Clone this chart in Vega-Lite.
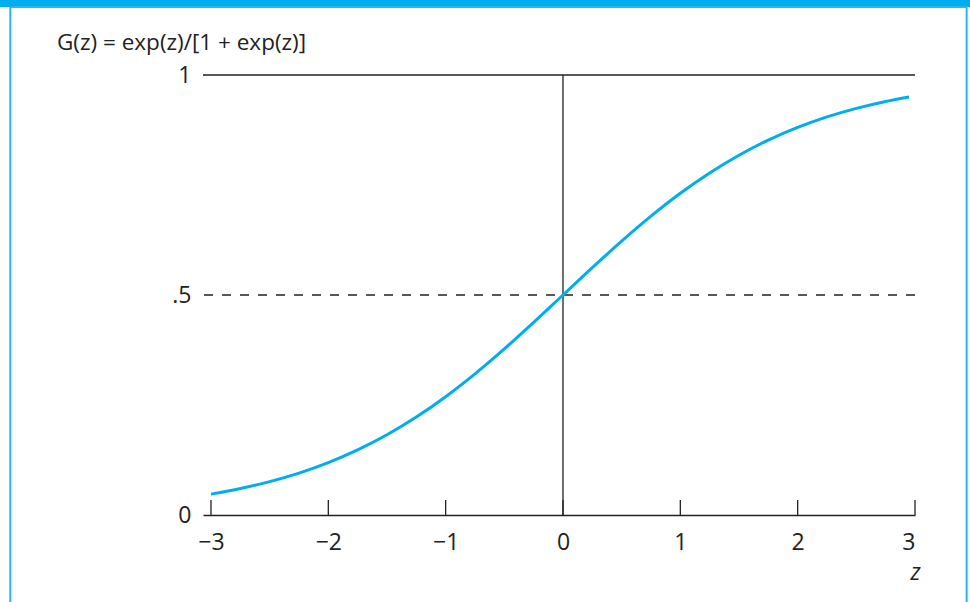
{
  "$schema": "https://vega.github.io/schema/vega-lite/v6.json",
  "autosize": {"type": "none"},
  "width": 712,
  "height": 440,
  "padding": {"left": 203, "top": 75, "right": 55, "bottom": 87},
  "background": "white",
  "config": {"view": {"stroke": null}, "font": "Open Sans"},
  "datasets": {
    "curve": [
      {"z": -3, "G": 0.0474}, {"z": -2.75, "G": 0.0601}, {"z": -2.5, "G": 0.0759},
      {"z": -2.25, "G": 0.0953}, {"z": -2, "G": 0.1192}, {"z": -1.75, "G": 0.148},
      {"z": -1.5, "G": 0.1824}, {"z": -1.25, "G": 0.2227}, {"z": -1, "G": 0.2689},
      {"z": -0.75, "G": 0.3208}, {"z": -0.5, "G": 0.3775}, {"z": -0.25, "G": 0.4378},
      {"z": 0, "G": 0.5}, {"z": 0.25, "G": 0.5622}, {"z": 0.5, "G": 0.6225},
      {"z": 0.75, "G": 0.6792}, {"z": 1, "G": 0.7311}, {"z": 1.25, "G": 0.7773},
      {"z": 1.5, "G": 0.8176}, {"z": 1.75, "G": 0.852}, {"z": 2, "G": 0.8808},
      {"z": 2.25, "G": 0.9047}, {"z": 2.5, "G": 0.9241}, {"z": 2.75, "G": 0.9399},
      {"z": 2.95, "G": 0.9502}
    ],
    "ticks": [{"z": -3}, {"z": -2}, {"z": -1}, {"z": 0}, {"z": 1}, {"z": 2}, {"z": 3}],
    "heading": [{"label": "G(z) = exp(z)/[1 + exp(z)]"}]
  },
  "layer": [
    {
      "data": {"values": [{}]},
      "mark": {"type": "rect", "fill": "#00AEEF"},
      "encoding": {
        "x": {"datum": -4.9, "type": "quantitative", "scale": {"domain": [-3.068, 3]}},
        "x2": {"datum": 3.6},
        "y": {"datum": 1.18, "type": "quantitative", "scale": {"domain": [0, 1]}},
        "y2": {"datum": 1.1545}
      }
    },
    {
      "data": {"values": [{}]},
      "mark": {"type": "rect", "fill": null, "stroke": "#29B6F0", "strokeWidth": 2},
      "encoding": {
        "x": {"datum": -4.71, "type": "quantitative"},
        "x2": {"datum": 3.44},
        "y": {"datum": 1.1545, "type": "quantitative"},
        "y2": {"datum": -0.25}
      }
    },
    {
      "data": {"name": "heading"},
      "mark": {"type": "text", "align": "left", "baseline": "alphabetic", "fontSize": 22.5, "color": "#222222", "font": "Open Sans"},
      "encoding": {
        "x": {"datum": -4.3125, "type": "quantitative"},
        "y": {"datum": 1.0568, "type": "quantitative"},
        "text": {"field": "label"}
      }
    },
    {
      "data": {"values": [{}]},
      "mark": {"type": "rule", "color": "#222222", "strokeWidth": 1.3},
      "encoding": {"y": {"datum": 1, "type": "quantitative"}}
    },
    {
      "data": {"values": [{}]},
      "mark": {"type": "rule", "color": "#222222", "strokeWidth": 1.3, "strokeDash": [9, 9]},
      "encoding": {"y": {"datum": 0.5, "type": "quantitative"}}
    },
    {
      "data": {"values": [{}]},
      "mark": {"type": "rule", "color": "#222222", "strokeWidth": 1.3},
      "encoding": {
        "x": {"datum": 0, "type": "quantitative"},
        "y": {"datum": 0, "type": "quantitative"},
        "y2": {"datum": 1}
      }
    },
    {
      "data": {"name": "ticks"},
      "mark": {"type": "rule", "color": "#222222", "strokeWidth": 1.3},
      "encoding": {
        "x": {"field": "z", "type": "quantitative"},
        "y": {"datum": 0, "type": "quantitative"},
        "y2": {"datum": 0.034}
      }
    },
    {
      "data": {"name": "curve"},
      "mark": {"type": "line", "color": "#00AEEF", "strokeWidth": 3, "interpolate": "monotone"},
      "encoding": {
        "x": {
          "field": "z",
          "type": "quantitative",
          "scale": {"domain": [-3.068, 3], "nice": false, "zero": false},
          "axis": {
            "values": [-3, -2, -1, 0, 1, 2, 3],
            "format": "d",
            "domain": true,
            "domainColor": "#222222",
            "domainWidth": 1.3,
            "ticks": false,
            "grid": false,
            "labelFontSize": 23,
            "labelColor": "#222222",
            "labelPadding": 16,
            "labelFont": "Open Sans",
            "title": "z",
            "titleFont": "Open Sans",
            "titleFontStyle": "italic",
            "titleFontWeight": "normal",
            "titleFontSize": 23,
            "titleColor": "#222222",
            "titleAnchor": "end",
            "titleAlign": "center",
            "titleX": 712,
            "titleY": 46
          }
        },
        "y": {
          "field": "G",
          "type": "quantitative",
          "scale": {"domain": [0, 1], "nice": false},
          "axis": {
            "values": [0, 0.5, 1],
            "labelExpr": "datum.value == 0.5 ? '.5' : (datum.value == 1 ? '1' : '0')",
            "domain": false,
            "ticks": false,
            "grid": false,
            "labelFontSize": 23,
            "labelColor": "#222222",
            "labelPadding": 12,
            "labelFont": "Open Sans",
            "title": null
          }
        }
      }
    }
  ]
}
